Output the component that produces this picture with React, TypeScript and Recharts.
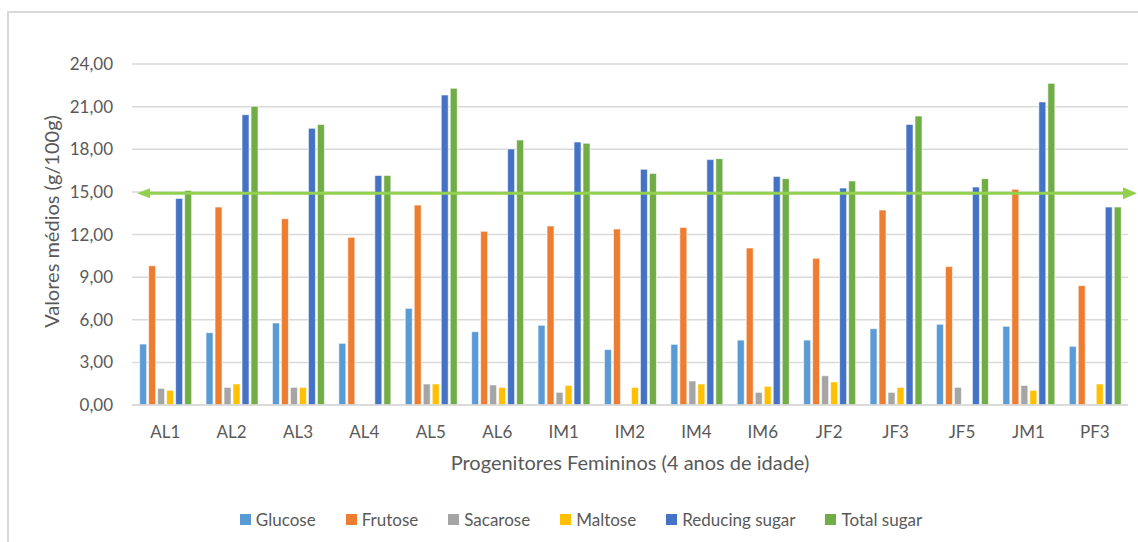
import { Bar, BarChart, CartesianGrid, Legend, ReferenceLine, XAxis, YAxis } from "recharts";

const categories = ["AL1", "AL2", "AL3", "AL4", "AL5", "AL6", "IM1", "IM2", "IM4", "IM6", "JF2", "JF3", "JF5", "JM1", "PF3"];
const glucose = [4.29, 5.09, 5.77, 4.34, 6.8, 5.16, 5.61, 3.9, 4.27, 4.57, 4.57, 5.37, 5.68, 5.54, 4.13];
const frutose = [9.8, 13.93, 13.11, 11.8, 14.07, 12.22, 12.6, 12.39, 12.5, 11.05, 10.32, 13.72, 9.74, 15.18, 8.4];
const sacarose = [1.17, 1.24, 1.24, 0, 1.48, 1.41, 0.89, 0, 1.69, 0.89, 2.06, 0.89, 1.24, 1.38, 0];
const maltose = [1.03, 1.48, 1.24, 0, 1.48, 1.24, 1.38, 1.24, 1.48, 1.31, 1.62, 1.24, 0, 1.03, 1.48];
const reducing = [14.54, 20.43, 19.47, 16.16, 21.82, 18.02, 18.51, 16.59, 17.27, 16.09, 15.27, 19.75, 15.34, 21.33, 13.93];
const total = [15.1, 21.02, 19.75, 16.16, 22.29, 18.65, 18.42, 16.3, 17.34, 15.93, 15.77, 20.34, 15.93, 22.64, 13.93];
const yTicks = [0, 3, 6, 9, 12, 15, 18, 21, 24];
const meanLine = 14.9;

const series = [
  { key: "glucose", name: "Glucose", color: "#5B9BD5" },
  { key: "frutose", name: "Frutose", color: "#ED7D31" },
  { key: "sacarose", name: "Sacarose", color: "#A5A5A5" },
  { key: "maltose", name: "Maltose", color: "#FFC000" },
  { key: "reducing", name: "Reducing sugar", color: "#4472C4" },
  { key: "total", name: "Total sugar", color: "#70AD47" },
];

const data = categories.map((c, i) => ({
  name: c,
  glucose: glucose[i],
  frutose: frutose[i],
  sacarose: sacarose[i],
  maltose: maltose[i],
  reducing: reducing[i],
  total: total[i],
}));

const TEXT = "#595959";
const GRID = "#d9d9d9";
const ARROW = "#92D050";

const fmt = (v: number) => v.toFixed(2).replace(".", ",");

// double-headed arrow spanning the plot, as drawn in the original sheet
function ArrowLine(p: any) {
  const { x1, y1, x2 } = p;
  const l = x1 + 5;
  const r = x2 + 9;
  return (
    <g>
      <line x1={l + 10} y1={y1} x2={r - 12} y2={y1} stroke={ARROW} strokeWidth={3} />
      <polygon points={`${l},${y1} ${l + 13},${y1 - 5} ${l + 13},${y1 + 5}`} fill={ARROW} />
      <polygon points={`${r},${y1} ${r - 14},${y1 - 6} ${r - 14},${y1 + 6}`} fill={ARROW} />
    </g>
  );
}

function YTitle(p: any) {
  const { viewBox } = p;
  const cx = viewBox.x + 51;
  const cy = viewBox.y + viewBox.height / 2 - 13;
  return (
    <text x={cx} y={cy} transform={`rotate(-90, ${cx}, ${cy})`} textAnchor="middle" dominantBaseline="central" fill={TEXT} fontSize={20}>
      Valores médios (g/100g)
    </text>
  );
}

// keep the series order of the sheet (Recharts would sort by name)
function LegendBox() {
  return (
    <div style={{ display: "flex", justifyContent: "center", height: 24, alignItems: "center", fontSize: 17, color: TEXT }}>
      {series.map((s, i) => (
        <div key={s.key} style={{ display: "flex", alignItems: "center", marginLeft: i === 0 ? 0 : 30 }}>
          <span style={{ width: 11, height: 11, background: s.color, marginRight: 5, display: "inline-block" }} />
          <span>{s.name}</span>
        </div>
      ))}
    </div>
  );
}

export default function App() {
  return (
    <div style={{ position: "absolute", left: 0, top: 0, width: 1138, height: 542, overflow: "hidden", background: "#fff", fontFamily: "Lato, sans-serif" }}>
      <div style={{ position: "absolute", left: 7, top: 11, width: 1200, height: 600, border: `2px solid ${GRID}` }} />
      <BarChart
        width={1138}
        height={542}
        data={data}
        margin={{ top: 64, right: 10, left: 0, bottom: 11 }}
        barCategoryGap="11.5%"
        barGap={2}
        style={{ position: "absolute", left: 0, top: 0 }}
      >
        <CartesianGrid stroke={GRID} strokeWidth={1.5} vertical={false} />
        <XAxis
          dataKey="name"
          height={102}
          tickLine={false}
          axisLine={{ stroke: GRID, strokeWidth: 1.5 }}
          tick={{ fill: TEXT, fontSize: 17 }}
          tickMargin={15}
          label={{ value: "Progenitores Femininos (4 anos de idade)", position: "insideBottom", offset: 37, fill: TEXT, fontSize: 20 }}
        />
        <YAxis
          width={132}
          domain={[0, 24]}
          ticks={yTicks}
          tickFormatter={fmt}
          tickLine={false}
          axisLine={false}
          tick={{ fill: TEXT, fontSize: 17 }}
          tickMargin={13}
          label={<YTitle />}
        />
        {series.map((s) => (
          <Bar key={s.key} dataKey={s.key} name={s.name} fill={s.color} stroke="#ffffff" strokeWidth={0.6} isAnimationActive={false} />
        ))}
        <ReferenceLine y={meanLine} shape={ArrowLine} />
        <Legend verticalAlign="bottom" content={<LegendBox />} wrapperStyle={{ left: 0, width: 1162 }} />
      </BarChart>
    </div>
  );
}
